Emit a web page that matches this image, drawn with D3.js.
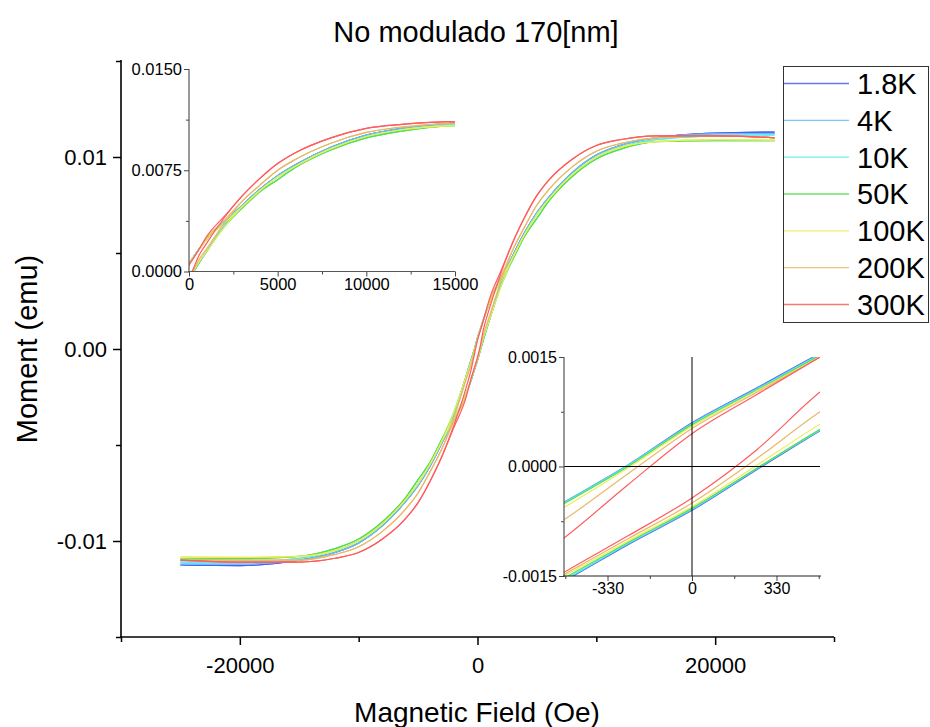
<!DOCTYPE html>
<html><head><meta charset="utf-8">
<script src="https://cdn.jsdelivr.net/npm/d3@7"></script>
<style>body{margin:0;background:#fff}svg{display:block}text{font-family:"Liberation Sans",Arial,sans-serif;fill:#000}</style>
</head><body>
<script>
// ---------------- DATA ----------------
const seriesNames = ["1.8K","4K","10K","50K","100K","200K","300K"];
const seriesColors = ["#4d5ff2","#63c0f5","#55ecec","#52e052","#ecec5a","#e9b86a","#ff5c5c"];
const fieldGrid = [-25000,-20000,-15000,-12000,-10000,-8000,-6000,-5000,-4000,-3000,-2000,-1000,-500,-250,0,250,500,1000,2000,3000,4000,5000,6000,8000,10000,12000,15000,20000,25000];

const asc18  = [-0.01125,-0.01128,-0.0110,-0.0106,-0.0101,-0.0092,-0.0079,-0.0071,-0.0061,-0.0049,-0.0037,-0.0024,-0.00157,-0.00107,-0.00060,-0.00005,0.00049,0.0015,0.0034,0.0049,0.0061,0.0071,0.0079,0.0092,0.0101,0.0106,0.0110,0.01125,0.0113];
const desc18 = [-0.01125,-0.01128,-0.0110,-0.0106,-0.0101,-0.0092,-0.0079,-0.0071,-0.0061,-0.0049,-0.0034,-0.0015,-0.00049,0.00002,0.00060,0.00107,0.00155,0.0024,0.0037,0.0049,0.0061,0.0071,0.0079,0.0092,0.0101,0.0106,0.0110,0.01125,0.0113];
const asc4   = [-0.0112,-0.0112,-0.0110,-0.0106,-0.0101,-0.0092,-0.0079,-0.0071,-0.0061,-0.0049,-0.0037,-0.0024,-0.00156,-0.00106,-0.00059,-0.00004,0.00050,0.0015,0.0034,0.0049,0.0061,0.0071,0.0079,0.0092,0.0101,0.0106,0.0110,0.0112,0.01122];
const desc4  = [-0.0112,-0.0112,-0.0110,-0.0106,-0.0101,-0.0092,-0.0079,-0.0071,-0.0061,-0.0049,-0.0034,-0.0015,-0.00049,0.00002,0.00059,0.00106,0.00154,0.0024,0.0037,0.0049,0.0061,0.0071,0.0079,0.0092,0.0101,0.0106,0.0110,0.0112,0.01122];
const asc10  = [-0.0111,-0.0111,-0.0109,-0.0105,-0.0100,-0.0091,-0.0078,-0.0070,-0.0060,-0.0048,-0.0037,-0.0024,-0.00155,-0.00105,-0.00058,-0.00003,0.00050,0.0015,0.0034,0.0048,0.0060,0.0070,0.0078,0.0091,0.0100,0.0105,0.0109,0.0111,0.01115];
const desc10 = [-0.0111,-0.0111,-0.0109,-0.0105,-0.0100,-0.0091,-0.0078,-0.0070,-0.0060,-0.0048,-0.0034,-0.0015,-0.00050,0.00001,0.00058,0.00105,0.00153,0.0024,0.0037,0.0048,0.0060,0.0070,0.0078,0.0091,0.0100,0.0105,0.0109,0.0111,0.01115];
const asc50  = [-0.01094,-0.01092,-0.0108,-0.0104,-0.0099,-0.0090,-0.0077,-0.0068,-0.0059,-0.0047,-0.0036,-0.0024,-0.00153,-0.00104,-0.00057,-0.00003,0.00051,0.0015,0.0033,0.0047,0.0059,0.0068,0.0077,0.0090,0.0099,0.0104,0.0108,0.01085,0.01085];
const desc50 = [-0.01094,-0.01092,-0.0108,-0.0104,-0.0099,-0.0090,-0.0077,-0.0068,-0.0059,-0.0047,-0.0033,-0.0015,-0.00051,0.00000,0.00057,0.00104,0.00152,0.0024,0.0036,0.0047,0.0059,0.0068,0.0077,0.0090,0.0099,0.0104,0.0108,0.01085,0.01085];
const asc100  = [-0.01083,-0.01085,-0.0108,-0.0105,-0.0100,-0.0091,-0.0078,-0.0070,-0.0060,-0.0048,-0.0036,-0.0024,-0.00150,-0.00102,-0.00055,0.00001,0.00058,0.0015,0.0033,0.0048,0.0060,0.0070,0.0078,0.0091,0.0100,0.0105,0.0108,0.0109,0.01088];
const desc100 = [-0.01083,-0.01085,-0.0108,-0.0105,-0.0100,-0.0091,-0.0078,-0.0070,-0.0060,-0.0048,-0.0033,-0.0015,-0.00056,-0.00002,0.00055,0.00103,0.00150,0.0024,0.0036,0.0048,0.0060,0.0070,0.0078,0.0091,0.0100,0.0105,0.0108,0.0109,0.01088];
const asc200  = [-0.0110,-0.0110,-0.0110,-0.0107,-0.0103,-0.0095,-0.0083,-0.0075,-0.0064,-0.0052,-0.0038,-0.0025,-0.00148,-0.00099,-0.00050,0.00010,0.00075,0.0017,0.0036,0.0052,0.0064,0.0075,0.0083,0.0095,0.0103,0.0107,0.0110,0.0111,0.0110];
const desc200 = [-0.0110,-0.0110,-0.0110,-0.0107,-0.0103,-0.0095,-0.0083,-0.0075,-0.0064,-0.0052,-0.0036,-0.0017,-0.00073,-0.00010,0.00052,0.00101,0.00150,0.0025,0.0038,0.0052,0.0064,0.0075,0.0083,0.0095,0.0103,0.0107,0.0110,0.0111,0.0110];
const asc300  = [-0.0110,-0.0111,-0.0111,-0.0109,-0.0106,-0.0099,-0.0088,-0.0080,-0.0069,-0.0056,-0.0041,-0.0026,-0.00145,-0.00095,-0.00043,0.00022,0.00102,0.0021,0.0040,0.0056,0.0069,0.0080,0.0088,0.0099,0.0106,0.0109,0.0111,0.0111,0.0110];
const desc300 = [-0.0110,-0.0111,-0.0111,-0.0109,-0.0106,-0.0099,-0.0088,-0.0080,-0.0069,-0.0056,-0.0040,-0.0021,-0.00098,-0.00025,0.00045,0.00098,0.00150,0.0026,0.0041,0.0056,0.0069,0.0080,0.0088,0.0099,0.0106,0.0109,0.0111,0.0111,0.0110];

const ascending  = [asc18, asc4, asc10, asc50, asc100, asc200, asc300];
const descending = [desc18, desc4, desc10, desc50, desc100, desc200, desc300];

const mainXTicks = [-20000, 0, 20000];
const mainXMinor = [-30000, -10000, 10000, 30000];
const mainYTicks = [-0.01, 0.00, 0.01];
const mainYMinor = [-0.015, -0.005, 0.005, 0.015];
const insetAXTicks = [0, 5000, 10000, 15000];
const insetAXMinor = [2500, 7500, 12500];
const insetAYTicks = [0, 0.0075, 0.015];
const insetAYMinor = [0.00375, 0.01125];
const insetBXTicks = [-330, 0, 330];
const insetBXMinor = [-495, -165, 165, 495];
const insetBYTicks = [-0.0015, 0, 0.0015];
const insetBYMinor = [-0.00075, 0.00075];

// ---------------- DRAW ----------------
const W = 930, H = 727;
const svg = d3.select("body").append("svg").attr("width", W).attr("height", H);

const x = d3.scaleLinear().domain([-30000, 30000]).range([121, 834]);
const y = d3.scaleLinear().domain([-0.015, 0.015]).range([637, 61]);

function drawAxis(g, axis, fs, color, width) {
  g.call(axis);
  g.select(".domain").remove();
  g.selectAll(".tick line").attr("stroke", color).attr("stroke-width", width);
  g.selectAll(".tick text").attr("font-size", fs).attr("font-family", '"Liberation Sans",Arial,sans-serif').attr("fill", "#000");
}

function branchPaths(g, xs, ys, clipId) {
  const line = d3.line().x(d => xs(d[0])).y(d => ys(d[1])).curve(d3.curveMonotoneX);
  const gg = g.append("g");
  if (clipId) gg.attr("clip-path", `url(#${clipId})`);
  seriesNames.forEach((name, i) => {
    [ascending[i], descending[i]].forEach(arr => {
      const pts = fieldGrid.map((h, k) => [h, arr[k]]);
      gg.append("path").attr("d", line(pts)).attr("fill", "none")
        .attr("stroke", seriesColors[i]).attr("stroke-width", 1.2);
    });
  });
}

// main curves
branchPaths(svg, x, y, null);

// main axes
const gx = svg.append("g").attr("transform", "translate(0,637)");
drawAxis(gx, d3.axisBottom(x).tickValues(mainXTicks).tickSize(8).tickPadding(12).tickFormat(d => String(d)), 22, "#000", 1.5);
const gxm = svg.append("g").attr("transform", "translate(0,637)");
drawAxis(gxm, d3.axisBottom(x).tickValues(mainXMinor).tickSize(5).tickFormat(""), 22, "#000", 1.5);
const gy = svg.append("g").attr("transform", "translate(121,0)");
drawAxis(gy, d3.axisLeft(y).tickValues(mainYTicks).tickSize(8).tickPadding(6).tickFormat(d => d.toFixed(2)), 22, "#000", 1.5);
const gym = svg.append("g").attr("transform", "translate(121,0)");
drawAxis(gym, d3.axisLeft(y).tickValues(mainYMinor).tickSize(5).tickFormat(""), 22, "#000", 1.5);
svg.append("line").attr("x1", 121).attr("x2", 121).attr("y1", 60).attr("y2", 638).attr("stroke", "#000").attr("stroke-width", 1.6);
svg.append("line").attr("x1", 120).attr("x2", 834).attr("y1", 637).attr("y2", 637).attr("stroke", "#000").attr("stroke-width", 1.6);

// titles
svg.append("text").attr("x", 476).attr("y", 42).attr("text-anchor", "middle").attr("font-size", 29).text("No modulado 170[nm]");
svg.append("text").attr("x", 477).attr("y", 722).attr("text-anchor", "middle").attr("font-size", 28).text("Magnetic Field (Oe)");
svg.append("text").attr("transform", "translate(37,349) rotate(-90)").attr("text-anchor", "middle").attr("font-size", 29).text("Moment (emu)");

// ---------- inset A (top-left) ----------
const xa = d3.scaleLinear().domain([0, 15000]).range([189, 455]);
const ya = d3.scaleLinear().domain([0, 0.015]).range([271.5, 69]);
const defs = svg.append("defs");
defs.append("clipPath").attr("id", "clipA").append("rect").attr("x", 189).attr("y", 69).attr("width", 266).attr("height", 202.5);
defs.append("clipPath").attr("id", "clipB").append("rect").attr("x", 564).attr("y", 357).attr("width", 256).attr("height", 219);
branchPaths(svg, xa, ya, "clipA");
const gxa = svg.append("g").attr("transform", "translate(0,271.5)");
drawAxis(gxa, d3.axisBottom(xa).tickValues(insetAXTicks).tickSize(5).tickPadding(2).tickFormat(d => String(d)), 16.5, "#444", 1);
const gxam = svg.append("g").attr("transform", "translate(0,271.5)");
drawAxis(gxam, d3.axisBottom(xa).tickValues(insetAXMinor).tickSize(3).tickFormat(""), 16, "#444", 1);
const gya = svg.append("g").attr("transform", "translate(189,0)");
drawAxis(gya, d3.axisLeft(ya).tickValues(insetAYTicks).tickSize(5).tickPadding(2).tickFormat(d => d.toFixed(4)), 16.5, "#444", 1);
const gyam = svg.append("g").attr("transform", "translate(189,0)");
drawAxis(gyam, d3.axisLeft(ya).tickValues(insetAYMinor).tickSize(3).tickFormat(""), 16, "#444", 1);
svg.append("line").attr("x1", 189).attr("x2", 189).attr("y1", 69).attr("y2", 272).attr("stroke", "#555").attr("stroke-width", 1.2);
svg.append("line").attr("x1", 188).attr("x2", 455).attr("y1", 271.5).attr("y2", 271.5).attr("stroke", "#555").attr("stroke-width", 1.2);

// ---------- inset B (bottom-right) ----------
const xb = d3.scaleLinear().domain([-500, 500]).range([564, 820]);
const yb = d3.scaleLinear().domain([-0.0015, 0.0015]).range([576, 357]);
branchPaths(svg, xb, yb, "clipB");
svg.append("line").attr("x1", xb(0)).attr("x2", xb(0)).attr("y1", 357).attr("y2", 576).attr("stroke", "#000").attr("stroke-width", 1);
svg.append("line").attr("x1", 564).attr("x2", 820).attr("y1", yb(0)).attr("y2", yb(0)).attr("stroke", "#000").attr("stroke-width", 1);
const gxb = svg.append("g").attr("transform", "translate(0,576)");
drawAxis(gxb, d3.axisBottom(xb).tickValues(insetBXTicks).tickSize(5).tickPadding(2).tickFormat(d => String(d)), 16, "#444", 1);
const gxbm = svg.append("g").attr("transform", "translate(0,576)");
drawAxis(gxbm, d3.axisBottom(xb).tickValues(insetBXMinor).tickSize(3).tickFormat(""), 16, "#444", 1);
const gyb = svg.append("g").attr("transform", "translate(564,0)");
drawAxis(gyb, d3.axisLeft(yb).tickValues(insetBYTicks).tickSize(5).tickPadding(2).tickFormat(d => d.toFixed(4)), 16, "#444", 1);
const gybm = svg.append("g").attr("transform", "translate(564,0)");
drawAxis(gybm, d3.axisLeft(yb).tickValues(insetBYMinor).tickSize(3).tickFormat(""), 16, "#444", 1);
svg.append("line").attr("x1", 564).attr("x2", 564).attr("y1", 357).attr("y2", 577).attr("stroke", "#555").attr("stroke-width", 1.2);
svg.append("line").attr("x1", 563).attr("x2", 821).attr("y1", 576).attr("y2", 576).attr("stroke", "#222").attr("stroke-width", 1.2);

// ---------- legend ----------
const lg = svg.append("g");
lg.append("rect").attr("x", 783.5).attr("y", 66.5).attr("width", 145).attr("height", 256).attr("fill", "#fff").attr("stroke", "#333").attr("stroke-width", 1);
const ly = d3.scalePoint().domain(seriesNames).range([83.5, 304.5]);
seriesNames.forEach((n, i) => {
  lg.append("line").attr("x1", 784).attr("x2", 849).attr("y1", ly(n)).attr("y2", ly(n))
    .attr("stroke", seriesColors[i]).attr("stroke-width", 1.3).attr("opacity", 0.85);
  lg.append("text").attr("x", 857).attr("y", ly(n)).attr("dy", "0.36em").attr("font-size", 29).text(n);
});
</script>
</body></html>
